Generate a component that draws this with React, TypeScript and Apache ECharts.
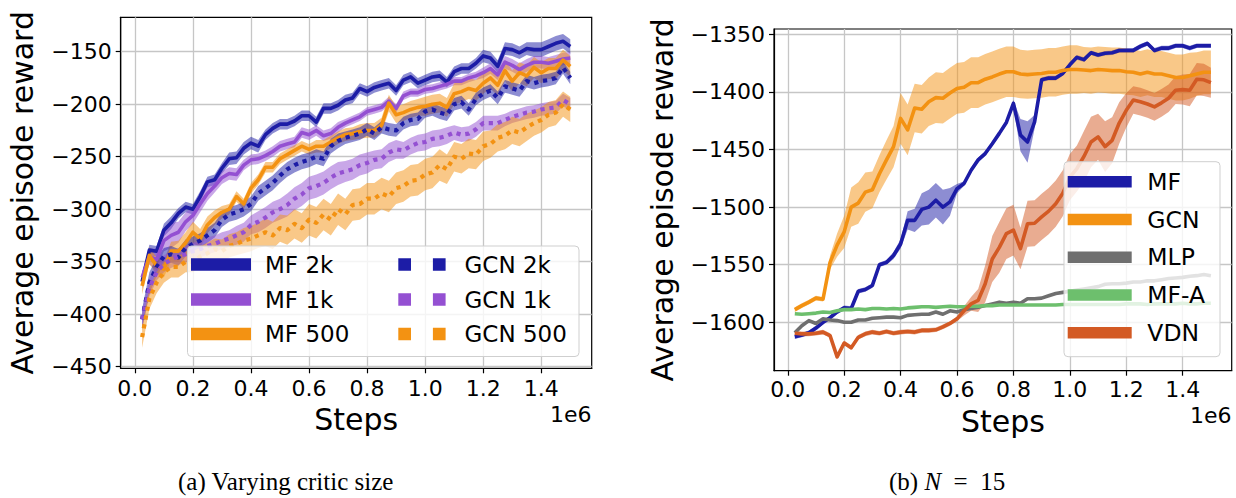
import React, { useEffect, useRef } from 'react';
import * as echarts from 'echarts';

const FONT = 'DejaVu Sans';

const STEPS = [
  0.025, 0.05, 0.075, 0.1, 0.125, 0.15, 0.175, 0.2, 0.225, 0.25,
  0.275, 0.3, 0.325, 0.35, 0.375, 0.4, 0.425, 0.45, 0.475, 0.5,
  0.525, 0.55, 0.575, 0.6, 0.625, 0.65, 0.675, 0.7, 0.725, 0.75,
  0.775, 0.8, 0.825, 0.85, 0.875, 0.9, 0.925, 0.95, 0.975, 1.0,
  1.025, 1.05, 1.075, 1.1, 1.125, 1.15, 1.175, 1.2, 1.225, 1.25,
  1.275, 1.3, 1.325, 1.35, 1.375, 1.4, 1.425, 1.45, 1.475, 1.5,
];

const X_TICKS = [0, 0.2, 0.4, 0.6, 0.8, 1.0, 1.2, 1.4];
const LEFT_Y_TICKS = [-450, -400, -350, -300, -250, -200, -150];
const RIGHT_Y_TICKS = [-1600, -1550, -1500, -1450, -1400, -1350];

// ---------- (a) Varying critic size ----------
const MF_2K = [
  -369, -339, -340, -320, -313, -304, -298, -300, -288, -274,
  -272, -261, -252, -251, -242, -237, -240, -229, -223, -219,
  -219, -216, -211, -211, -217, -204, -204, -201, -196, -194,
  -185, -188, -184, -182, -180, -187, -177, -174, -180, -177,
  -174, -173, -179, -169, -166, -166, -161, -154, -156, -164,
  -147, -148, -151, -147, -148, -148, -145, -142, -140, -145,
];
const MF_1K = [
  -365, -345, -348, -330, -325, -322, -312, -306, -295, -285,
  -278, -270, -266, -267, -258, -253, -252, -249, -245, -240,
  -238, -236, -227, -229, -225, -230, -228, -222, -218, -215,
  -212, -207, -205, -203, -197, -204, -192, -189, -189, -186,
  -185, -183, -181, -178, -178, -175, -173, -170, -166, -172,
  -160, -163, -167, -163, -160, -160, -161, -159, -157, -156,
];
const MF_500 = [
  -373, -344, -354, -357, -340, -340, -332, -322, -328, -315,
  -308, -303, -300, -288, -295, -280, -272, -260, -260, -252,
  -248, -244, -240, -243, -240, -240, -236, -232, -229, -228,
  -226, -225, -225, -220, -199, -210, -208, -205, -203, -202,
  -200, -199, -203, -190, -188, -185, -187, -180, -175, -182,
  -168, -178, -170, -173, -165, -170, -166, -166, -158, -164,
];
const GCN_2K = [
  -405, -370, -355, -345, -343, -346, -337, -333, -330, -325,
  -320, -310, -305, -303, -300, -295, -285, -280, -275, -268,
  -262, -258, -255, -253, -250, -252, -240, -235, -232, -230,
  -228, -224, -228, -222, -224, -225, -218, -215, -214, -207,
  -205, -208, -210, -200, -198, -205, -195, -190, -187, -194,
  -183, -185, -187, -178, -180, -178, -177, -175, -165, -175,
];
const GCN_1K = [
  -405, -375, -360, -352, -348, -345, -343, -340, -338, -335,
  -333, -330, -328, -325, -322, -315, -312, -308, -303, -300,
  -296, -290, -286, -280, -278, -275, -270, -266, -264, -262,
  -258, -256, -253, -252, -246, -243, -244, -240, -237, -236,
  -233, -232, -230, -227, -229, -228, -224, -218, -218, -218,
  -215, -212, -210, -208, -207, -205, -204, -203, -196, -200,
];
const GCN_500 = [
  -422, -385, -370, -360, -355, -355, -350, -350, -345, -342,
  -338, -340, -335, -333, -330, -328, -325, -322, -325, -318,
  -320, -314, -318, -310, -313, -305, -310, -300, -305, -296,
  -295, -290, -290, -285, -288, -280, -278, -273, -272, -267,
  -265, -258, -262, -250, -252, -247, -248, -240, -238, -232,
  -230, -225, -227, -222, -218, -215, -210, -208, -200, -205,
];
// half-widths of the shaded bands
const MF_2K_W = [
  6, 5, 5, 6, 6, 5, 5, 5, 5, 5, 5, 5, 6, 6, 6, 6, 6, 5, 5, 5,
  5, 5, 5, 5, 5, 5, 5, 5, 5, 5, 5, 5, 5, 5, 5, 5, 5, 5, 5, 5,
  5, 5, 5, 5, 5, 5, 5, 6, 6, 6, 6, 6, 6, 6, 7, 7, 7, 7, 7, 7,
];
const MF_1K_W = [
  6, 8, 10, 10, 12, 10, 9, 8, 8, 7, 6, 6, 6, 6, 5, 5, 5, 5, 5, 5,
  5, 5, 5, 5, 5, 5, 5, 5, 4, 4, 4, 4, 4, 4, 4, 4, 4, 4, 4, 4,
  4, 4, 4, 4, 4, 4, 4, 5, 5, 5, 6, 6, 6, 6, 6, 6, 6, 6, 6, 6,
];
const MF_500_W = [
  8, 8, 8, 8, 9, 10, 10, 10, 9, 8, 7, 6, 5, 5, 5, 5, 5, 5, 5, 5,
  5, 5, 5, 5, 6, 6, 6, 6, 6, 6, 7, 7, 7, 7, 8, 8, 8, 8, 8, 9,
  9, 9, 9, 10, 10, 10, 10, 10, 10, 10, 10, 10, 10, 10, 10, 10, 10, 10, 10, 10,
];
const GCN_2K_W = [
  10, 10, 9, 8, 8, 8, 8, 7, 7, 7, 7, 7, 7, 7, 7, 7, 7, 7, 7, 7,
  7, 7, 7, 7, 7, 7, 7, 7, 6, 6, 6, 6, 6, 6, 6, 6, 6, 6, 6, 6,
  6, 6, 6, 6, 6, 6, 6, 6, 6, 6, 6, 6, 6, 6, 6, 6, 6, 6, 6, 6,
];
const GCN_1K_W = [
  8, 8, 8, 8, 8, 8, 8, 8, 8, 8, 8, 8, 8, 9, 9, 9, 10, 10, 10, 10,
  11, 11, 11, 11, 11, 11, 11, 11, 10, 10, 10, 10, 9, 9, 9, 9, 8, 8, 8, 8,
  8, 8, 8, 7, 7, 7, 7, 7, 7, 7, 6, 6, 6, 6, 6, 6, 6, 6, 6, 6,
];
const GCN_500_W = [
  10, 10, 10, 10, 10, 10, 10, 10, 10, 10, 10, 11, 11, 11, 12, 12, 12, 13, 13, 13,
  14, 14, 14, 15, 15, 15, 15, 15, 15, 15, 15, 15, 15, 15, 15, 15, 15, 15, 15, 15,
  15, 15, 14, 14, 14, 14, 14, 14, 13, 13, 13, 13, 13, 13, 12, 12, 12, 12, 12, 12,
];

// ---------- (b) N = 15 ----------
const R_MF = [
  -1612.5, -1611, -1609, -1605, -1600, -1596, -1591, -1587.5, -1588, -1573,
  -1571.5, -1568, -1550, -1548, -1542, -1532, -1511.5, -1511.5, -1502, -1500,
  -1494, -1500, -1495.5, -1484, -1479.5, -1468, -1459, -1453.5, -1445, -1436,
  -1426.5, -1410, -1437.5, -1443.5, -1426, -1389.5, -1388, -1388, -1384, -1376.5,
  -1370, -1372, -1366, -1368, -1366.5, -1366, -1364, -1364, -1364, -1360.5,
  -1358, -1364, -1362, -1362, -1360, -1360, -1362, -1360, -1360, -1360,
];
const R_GCN = [
  -1589, -1585.5, -1582.5, -1579, -1580, -1548, -1533, -1521.5, -1500, -1496.5,
  -1487, -1485, -1471, -1459, -1447.5, -1423, -1433, -1414, -1415, -1408.5,
  -1405, -1405.5, -1401, -1397, -1396, -1392, -1392, -1389, -1387, -1384.5,
  -1382.5, -1382.5, -1384.5, -1385, -1384.5, -1384, -1383, -1383, -1381.5, -1380.5,
  -1380.5, -1381, -1381.5, -1380.5, -1381, -1381.5, -1381.5, -1382.5, -1383, -1384.5,
  -1383, -1384.5, -1384.5, -1386, -1387.5, -1387.5, -1386, -1384.5, -1383, -1383,
];
const R_MLP = [
  -1609, -1603, -1598.5, -1601, -1597, -1598, -1598.5, -1600, -1600, -1598,
  -1598, -1596.5, -1596, -1595.5, -1595.5, -1596, -1594, -1593.5, -1593, -1593,
  -1591, -1593, -1590, -1591, -1589, -1588, -1587, -1585.5, -1584, -1582.5,
  -1583.5, -1582.5, -1583.5, -1579.5, -1579.5, -1579, -1577, -1575, -1574, -1573,
  -1572, -1571, -1570, -1569, -1567, -1566.5, -1566.5, -1566, -1565, -1565,
  -1564, -1564, -1563, -1562, -1561.5, -1561, -1560, -1559.5, -1558.5, -1559.5,
];
const R_MFA = [
  -1592.5, -1593, -1592.5, -1592, -1591, -1591.5, -1590, -1589, -1589, -1588.5,
  -1589, -1588, -1588, -1588.5, -1588, -1588.5, -1587.5, -1587, -1586.5, -1586.5,
  -1587, -1586.5, -1586, -1586.5, -1586.5, -1586, -1586, -1585.5, -1585.5, -1585,
  -1585, -1585, -1585, -1585, -1585, -1585, -1585, -1585, -1584.5, -1584.5,
  -1584.5, -1584.5, -1584.5, -1584.5, -1584.5, -1584.5, -1584.5, -1584, -1584, -1584,
  -1584.5, -1584, -1584, -1584, -1584, -1583.5, -1584, -1584, -1583.5, -1583.5,
];
const R_VDN = [
  -1609.5, -1610, -1610, -1609.5, -1608.5, -1611.5, -1630, -1618, -1622, -1613,
  -1610, -1608.5, -1609.5, -1608, -1609.5, -1608.5, -1608, -1608.5, -1607, -1607,
  -1606.5, -1604, -1601, -1597, -1590, -1584, -1581, -1566.5, -1545, -1535,
  -1523, -1520, -1536, -1514.5, -1514, -1508.5, -1503.5, -1497, -1488, -1474,
  -1466.5, -1456, -1443.5, -1439, -1447.5, -1442, -1427, -1416, -1407, -1408.5,
  -1410.5, -1413, -1409.5, -1405.5, -1398.5, -1398, -1398.5, -1389, -1389.5, -1392,
];
const R_MF_W = [
  2, 2, 2, 2, 2, 2, 2, 2, 2, 2, 2, 2, 2, 2, 3, 4, 8, 10, 14, 15,
  15, 15, 12, 4, 2, 2, 2, 2, 2, 2, 2, 3, 14, 18, 6, 2, 2, 2, 2, 2,
  2, 2, 2, 2, 2, 2, 2, 2, 2, 2, 2, 2, 2, 2, 2, 2, 2, 2, 2, 2,
];
const R_GCN_W = [
  2, 2, 2, 2, 2, 6, 10, 14, 17, 18, 17, 16, 16, 17, 18, 22, 22, 21, 21, 21,
  22, 22, 22, 22, 22, 22, 22, 22, 22, 22, 22, 22, 21, 21, 21, 21, 21, 21, 21, 21,
  21, 20, 20, 20, 20, 20, 20, 20, 20, 20, 20, 20, 20, 20, 20, 20, 20, 19, 19, 19,
];
const R_VDN_W = [
  2, 2, 2, 2, 2, 2, 2, 2, 2, 2, 2, 2, 2, 2, 2, 2, 2, 2, 2, 2,
  2, 2, 2, 2, 4, 6, 10, 16, 20, 22, 22, 22, 18, 20, 20, 20, 20, 20, 20, 20,
  20, 22, 22, 20, 22, 20, 18, 15, 12, 12, 12, 12, 12, 12, 12, 13, 14, 14, 14, 13,
];

const BLUE = '#1c1ca6';
const PURPLE = '#9450d2';
const ORANGE = '#f39212';
const GRAY = '#6f6f6f';
const GREEN = '#6dbf6d';
const VDN = '#d35a24';

const LEFT_SOLID_NAMES = ['MF 2k', 'MF 1k', 'MF 500'];
const LEFT_DOTTED_NAMES = ['GCN 2k', 'GCN 1k', 'GCN 500'];
const LEFT_COLORS = [BLUE, PURPLE, ORANGE];
const RIGHT_NAMES = ['MF', 'GCN', 'MLP', 'MF-A', 'VDN'];
const RIGHT_COLORS = [BLUE, ORANGE, GRAY, GREEN, VDN];

function rgba(hex: string, a: number) {
  const n = parseInt(hex.slice(1), 16);
  return `rgba(${(n >> 16) & 255},${(n >> 8) & 255},${n & 255},${a})`;
}

function band(xi: number, mean: number[], w: number[], color: string) {
  return {
    type: 'custom',
    xAxisIndex: xi,
    yAxisIndex: xi,
    data: [[STEPS[0], mean[0]]],
    clip: true,
    silent: true,
    z: 1,
    renderItem: (_p: any, api: any) => {
      const up = mean.map((m, i) => api.coord([STEPS[i], m + w[i]]));
      const lo = mean.map((m, i) => api.coord([STEPS[i], m - w[i]])).reverse();
      return {
        type: 'polygon',
        shape: { points: up.concat(lo) },
        style: { fill: rgba(color, 0.5), stroke: 'none' },
      };
    },
  };
}

function line(name: string, xi: number, vals: number[], color: string, dotted: boolean) {
  return {
    type: 'line',
    name,
    xAxisIndex: xi,
    yAxisIndex: xi,
    data: vals.map((v, i) => [STEPS[i], v]),
    showSymbol: false,
    symbol: 'none',
    silent: true,
    z: 3,
    itemStyle: { color },
    lineStyle: {
      color,
      width: dotted ? 4.2 : 3.6,
      type: dotted ? [4.2, 4.8] : 'solid',
      cap: 'butt',
      join: 'round',
    },
  };
}

const fmtX = (v: number) => (Math.abs(v * 5 - Math.round(v * 5)) > 1e-6 ? '' : v.toFixed(1));
const fmtY = (v: number) =>
  Math.abs(v / 50 - Math.round(v / 50)) > 1e-6 ? '' : (v < 0 ? '\u2212' : '') + Math.abs(Math.round(v));

function xAxis(gi: number, margin: number) {
  return {
    type: 'value',
    gridIndex: gi,
    min: -0.04875,
    max: 1.57375,
    splitNumber: 8,
    name: 'Steps',
    nameLocation: 'middle',
    nameGap: 36,
    nameTextStyle: { fontSize: 30, fontFamily: FONT, color: '#000' },
    axisLine: { show: true, onZero: false, lineStyle: { color: '#000', width: 1.2 } },
    axisTick: { show: true, length: 5, inside: false, customValues: X_TICKS, lineStyle: { color: '#000', width: 1.2 } },
    axisLabel: { show: true, customValues: X_TICKS, margin, fontSize: 22, fontFamily: FONT, color: '#000', formatter: fmtX },
    splitLine: { show: true, lineStyle: { color: '#c6c6c6', width: 1.3 } },
  };
}

function yAxis(gi: number, min: number, max: number, ticks: number[], nameGap: number, split: number) {
  return {
    type: 'value',
    gridIndex: gi,
    min,
    max,
    splitNumber: split,
    name: 'Average episode reward',
    nameLocation: 'middle',
    nameRotate: 90,
    nameGap,
    nameTextStyle: { fontSize: 30, fontFamily: FONT, color: '#000' },
    axisLine: { show: true, onZero: false, lineStyle: { color: '#000', width: 1.2 } },
    axisTick: { show: true, length: 5, inside: false, customValues: ticks, lineStyle: { color: '#000', width: 1.2 } },
    axisLabel: { show: true, customValues: ticks, margin: 9, fontSize: 22, fontFamily: FONT, color: '#000', formatter: fmtY },
    splitLine: { show: true, lineStyle: { color: '#c6c6c6', width: 1.3 } },
  };
}

function text(x: number, y: number, str: string, size: number, align = 'left', family = FONT) {
  return {
    type: 'text',
    x,
    y,
    z: 101,
    silent: true,
    style: { text: str, fill: '#000', fontSize: size, fontFamily: family, align, verticalAlign: 'middle' },
  };
}

function buildGraphics() {
  const g: any[] = [];
  // left legend
  g.push({
    type: 'rect', z: 100, silent: true,
    shape: { x: 187.5, y: 246, width: 391.5, height: 110.5, r: 4 },
    style: { fill: 'rgba(255,255,255,0.8)', stroke: '#cfcfcf', lineWidth: 1 },
  });
  const leftRows = [264.5, 299.5, 334];
  LEFT_SOLID_NAMES.forEach((n, i) => {
    g.push({ type: 'rect', z: 101, silent: true, shape: { x: 191, y: leftRows[i] - 6.25, width: 60, height: 12.5 }, style: { fill: LEFT_COLORS[i] } });
    g.push(text(265, leftRows[i], n, 23));
  });
  LEFT_DOTTED_NAMES.forEach((n, i) => {
    g.push({ type: 'rect', z: 101, silent: true, shape: { x: 398.3, y: leftRows[i] - 6.25, width: 12.7, height: 12.5 }, style: { fill: LEFT_COLORS[i] } });
    g.push({ type: 'rect', z: 101, silent: true, shape: { x: 432.9, y: leftRows[i] - 6.25, width: 12.7, height: 12.5 }, style: { fill: LEFT_COLORS[i] } });
    g.push(text(464.5, leftRows[i], n, 23));
  });
  // right legend
  g.push({
    type: 'rect', z: 100, silent: true,
    shape: { x: 1064, y: 161.7, width: 156, height: 195, r: 4 },
    style: { fill: 'rgba(255,255,255,0.8)', stroke: '#cfcfcf', lineWidth: 1 },
  });
  const rightRows = [181.7, 219.5, 257.3, 295, 332.7];
  RIGHT_NAMES.forEach((n, i) => {
    g.push({ type: 'rect', z: 101, silent: true, shape: { x: 1067.7, y: rightRows[i] - 5.75, width: 64, height: 11.5 }, style: { fill: RIGHT_COLORS[i] } });
    g.push(text(1147.3, rightRows[i], n, 23.5));
  });
  // offset texts
  g.push(text(591.5, 414.6, '1e6', 22, 'right'));
  g.push(text(1231.5, 415.6, '1e6', 22, 'right'));
  // captions
  g.push(text(178, 481, '(a) Varying critic size', 25, 'left', 'Liberation Serif'));
  g.push({
    type: 'text', x: 889, y: 481, z: 101, silent: true,
    style: {
      text: '(b) {i|N}\u2002=\u200215',
      fill: '#000', fontSize: 25, fontFamily: 'Liberation Serif', align: 'left', verticalAlign: 'middle',
      rich: { i: { fontStyle: 'italic', fontSize: 25, fontFamily: 'Liberation Serif', fill: '#000' } },
    },
  });
  return g;
}

export default function App() {
  const ref = useRef<HTMLDivElement>(null);
  useEffect(() => {
    if (!ref.current) return;
    const chart = echarts.init(ref.current, null, { renderer: 'svg' });
    const option: any = {
      animation: false,
      backgroundColor: '#ffffff',
      textStyle: { fontFamily: FONT },
      grid: [
        { left: 120.7, top: 17.3, width: 471, height: 351, show: true, borderColor: '#000', borderWidth: 1.2, backgroundColor: 'transparent', containLabel: false, outerBoundsMode: 'none' },
        { left: 774, top: 29, width: 457.7, height: 341.7, show: true, borderColor: '#000', borderWidth: 1.2, backgroundColor: 'transparent', containLabel: false, outerBoundsMode: 'none' },
      ],
      xAxis: [xAxis(0, 9), xAxis(1, 7.5)],
      yAxis: [
        yAxis(0, -451.6, -117.2, LEFT_Y_TICKS, 83, 7),
        yAxis(1, -1642, -1345.4, RIGHT_Y_TICKS, 96.5, 6),
      ],
      series: [
        band(0, MF_2K, MF_2K_W, BLUE),
        band(0, MF_1K, MF_1K_W, PURPLE),
        band(0, MF_500, MF_500_W, ORANGE),
        band(0, GCN_2K, GCN_2K_W, BLUE),
        band(0, GCN_1K, GCN_1K_W, PURPLE),
        band(0, GCN_500, GCN_500_W, ORANGE),
        line('MF 2k', 0, MF_2K, BLUE, false),
        line('MF 1k', 0, MF_1K, PURPLE, false),
        line('MF 500', 0, MF_500, ORANGE, false),
        line('GCN 2k', 0, GCN_2K, BLUE, true),
        line('GCN 1k', 0, GCN_1K, PURPLE, true),
        line('GCN 500', 0, GCN_500, ORANGE, true),
        band(1, R_MF, R_MF_W, BLUE),
        band(1, R_GCN, R_GCN_W, ORANGE),
        band(1, R_VDN, R_VDN_W, VDN),
        line('MF', 1, R_MF, BLUE, false),
        line('GCN', 1, R_GCN, ORANGE, false),
        line('MLP', 1, R_MLP, GRAY, false),
        line('MF-A', 1, R_MFA, GREEN, false),
        line('VDN', 1, R_VDN, VDN, false),
      ],
      graphic: buildGraphics(),
    };
    chart.setOption(option);
    return () => chart.dispose();
  }, []);
  return (
    <div
      ref={ref}
      style={{ position: 'fixed', left: 0, top: 0, width: 1236, height: 498, background: '#fff' }}
    />
  );
}
